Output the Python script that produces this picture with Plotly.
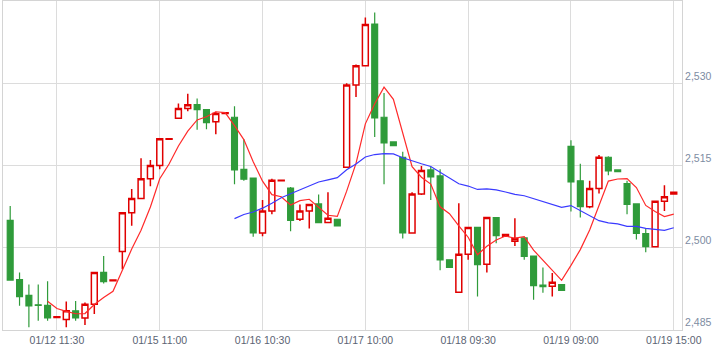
import plotly.graph_objects as go

# ---- data ----
opens = [2505.0, 2494.2, 2491.3, 2489.6, 2489.5, 2487.3, 2486.9, 2488.5, 2487.2, 2489.7,
         2495.5, 2494.0, 2499.3, 2506.4, 2509.0, 2512.6, 2515.0, 2519.8, 2523.6, 2525.4,
         2526.1, 2525.2, 2523.0, 2524.5, 2523.8, 2514.3, 2512.7, 2502.7, 2506.7, 2512.2,
         2510.9, 2505.2, 2506.7, 2508.0, 2504.6, 2505.2, 2514.7, 2529.7, 2533.2, 2540.8,
         2523.8, 2519.3, 2516.5, 2502.7, 2509.8, 2514.2, 2513.1, 2497.8, 2491.9, 2498.8,
         2503.7, 2497.0, 2505.5, 2502.1, 2501.2, 2501.8, 2498.5, 2493.2, 2493.0, 2493.3,
         2518.5, 2512.2, 2507.5, 2510.8, 2516.5, 2514.2, 2511.7, 2508.0, 2502.6, 2500.2,
         2508.5, 2509.8]
highs = [2507.6, 2495.5, 2493.3, 2493.3, 2493.9, 2487.5, 2490.2, 2490.3, 2490.0, 2495.5,
         2498.5, 2494.1, 2506.4, 2510.7, 2516.3, 2516.0, 2519.9, 2519.9, 2526.3, 2528.1,
         2527.2, 2525.2, 2524.8, 2524.6, 2525.8, 2519.8, 2512.7, 2508.7, 2512.6, 2512.3,
         2511.1, 2507.9, 2507.9, 2509.7, 2510.1, 2505.2, 2530.0, 2533.4, 2542.0, 2542.9,
         2528.2, 2519.3, 2517.5, 2510.1, 2514.9, 2514.8, 2514.3, 2497.8, 2508.1, 2503.7,
         2503.7, 2505.5, 2505.5, 2502.4, 2505.4, 2501.8, 2498.5, 2496.4, 2495.4, 2493.3,
         2519.6, 2515.3, 2512.2, 2516.9, 2516.7, 2514.2, 2512.2, 2508.0, 2503.5, 2508.5,
         2511.4, 2510.1]
lows = [2494.0, 2489.4, 2485.5, 2486.7, 2486.7, 2487.2, 2485.5, 2486.7, 2485.9, 2487.9,
        2493.5, 2494.0, 2496.1, 2504.0, 2509.0, 2511.2, 2514.3, 2519.8, 2523.6, 2524.9,
        2521.5, 2521.6, 2520.7, 2524.5, 2511.6, 2512.2, 2502.0, 2502.1, 2506.1, 2512.2,
        2503.0, 2504.9, 2503.5, 2504.6, 2504.6, 2504.0, 2514.7, 2527.5, 2533.2, 2520.2,
        2511.6, 2518.6, 2501.7, 2502.7, 2509.6, 2508.7, 2495.9, 2496.4, 2491.9, 2497.8,
        2491.1, 2495.5, 2500.8, 2502.1, 2500.3, 2497.8, 2490.5, 2491.8, 2491.1, 2492.2,
        2506.6, 2505.5, 2507.2, 2509.9, 2513.2, 2513.9, 2506.1, 2501.5, 2499.2, 2500.2,
        2506.7, 2509.8]
closes = [2494.1, 2491.1, 2489.4, 2489.5, 2487.2, 2487.4, 2488.5, 2487.2, 2489.7, 2495.5,
          2493.8, 2494.1, 2506.4, 2509.0, 2512.6, 2515.0, 2519.9, 2519.9, 2525.4, 2526.1,
          2525.2, 2522.8, 2524.5, 2524.6, 2514.2, 2512.5, 2502.7, 2506.7, 2512.3, 2512.3,
          2505.0, 2506.7, 2507.9, 2504.6, 2505.4, 2504.0, 2529.7, 2533.2, 2540.7, 2523.7,
          2519.1, 2518.6, 2502.7, 2509.8, 2514.1, 2512.9, 2497.8, 2496.4, 2498.8, 2503.7,
          2496.9, 2505.5, 2502.2, 2502.4, 2501.7, 2498.4, 2493.1, 2492.9, 2493.7, 2492.2,
          2512.0, 2507.5, 2510.8, 2516.5, 2514.0, 2513.9, 2507.9, 2502.6, 2500.2, 2508.5,
          2509.3, 2510.1]

# red average line (starts at the 5th candle)
ma_fast = [2490.26, 2488.92, 2488.40, 2487.96, 2488.00, 2489.66, 2490.94, 2492.06, 2495.90, 2499.76,
           2503.18, 2507.42, 2512.58, 2515.28, 2518.56, 2521.26, 2523.30, 2523.88, 2524.80, 2524.64,
           2522.26, 2519.72, 2515.70, 2512.14, 2509.68, 2509.30, 2507.80, 2508.60, 2508.84, 2507.30,
           2505.92, 2505.72, 2510.32, 2515.38, 2522.60, 2526.26, 2529.28, 2527.06, 2520.96, 2514.78,
           2512.86, 2511.62, 2507.46, 2506.20, 2504.00, 2501.92, 2498.72, 2500.26, 2501.42, 2502.14,
           2501.74, 2502.04, 2499.56, 2497.70, 2495.96, 2494.06, 2496.78, 2499.66, 2503.24, 2507.80,
           2512.16, 2512.54, 2512.62, 2510.98, 2507.72, 2506.62, 2505.70, 2506.14]
# blue average line (starts at the 25th candle)
ma_slow = [2505.32, 2506.06, 2506.52, 2507.22, 2508.13, 2509.13, 2509.84, 2510.56, 2511.39, 2511.99,
           2512.38, 2512.79, 2514.22, 2515.29, 2516.56, 2517.00, 2517.16, 2517.11, 2516.42, 2515.80,
           2515.32, 2514.83, 2513.83, 2512.70, 2511.67, 2511.25, 2510.63, 2510.74, 2510.56, 2510.16,
           2509.74, 2509.48, 2508.93, 2508.33, 2507.90, 2507.37, 2507.69, 2506.80, 2505.90, 2504.94,
           2504.55, 2504.34, 2503.91, 2503.91, 2503.52, 2503.30, 2503.16, 2503.65]

tick_labels = ["01/12 11:30", "01/15 11:00", "01/16 10:30", "01/17 10:00",
               "01/18 09:30", "01/19 09:00", "01/19 15:00"]
tick_index = [5, 16, 27, 38, 49, 60, 71]
y_ticks = [2485, 2500, 2515, 2530]

# ---- figure ----
n = len(closes)
xs = list(range(n))
RED = "#e00000"
GREEN = "#2f9b3a"

fig = go.Figure()
fig.add_trace(go.Candlestick(
    x=xs, open=opens, high=highs, low=lows, close=closes,
    increasing=dict(line=dict(color=RED, width=1.5), fillcolor="white"),
    decreasing=dict(line=dict(color=GREEN, width=1.2), fillcolor=GREEN),
    whiskerwidth=0, showlegend=False, hoverinfo="skip",
))
fig.add_trace(go.Scatter(
    x=xs[n - len(ma_fast):], y=ma_fast, mode="lines",
    line=dict(color="#ff2a2a", width=1.2), showlegend=False, hoverinfo="skip",
))
fig.add_trace(go.Scatter(
    x=xs[n - len(ma_slow):], y=ma_slow, mode="lines",
    line=dict(color="#3a3aff", width=1.2), showlegend=False, hoverinfo="skip",
))

fig.update_layout(
    width=721, height=353,
    margin=dict(l=3, r=38.5, t=1, b=23),
    paper_bgcolor="white", plot_bgcolor="white",
    boxgap=0.1,
    font=dict(family="Liberation Sans, Arial, sans-serif", size=10.5),
    xaxis=dict(
        range=[-0.77, 71.88],
        tickvals=tick_index, ticktext=tick_labels,
        showgrid=True, gridcolor="#dcdcdc", gridwidth=1,
        showline=True, linecolor="#d4d4d4", linewidth=1, mirror=True,
        ticks="", zeroline=False,
        tickfont=dict(color="#5b6473", size=10.5),
        rangeslider=dict(visible=False),
        fixedrange=True,
    ),
    yaxis=dict(
        side="right",
        range=[2485, 2545],
        tickvals=y_ticks, tickformat=",d",
        ticklabelposition="outside top",
        showgrid=True, gridcolor="#dcdcdc", gridwidth=1,
        showline=True, linecolor="#d4d4d4", linewidth=1, mirror=True,
        ticks="", zeroline=False,
        tickfont=dict(color="#7d8ca2", size=10.5),
        fixedrange=True,
    ),
)

fig.write_html("out.html")
